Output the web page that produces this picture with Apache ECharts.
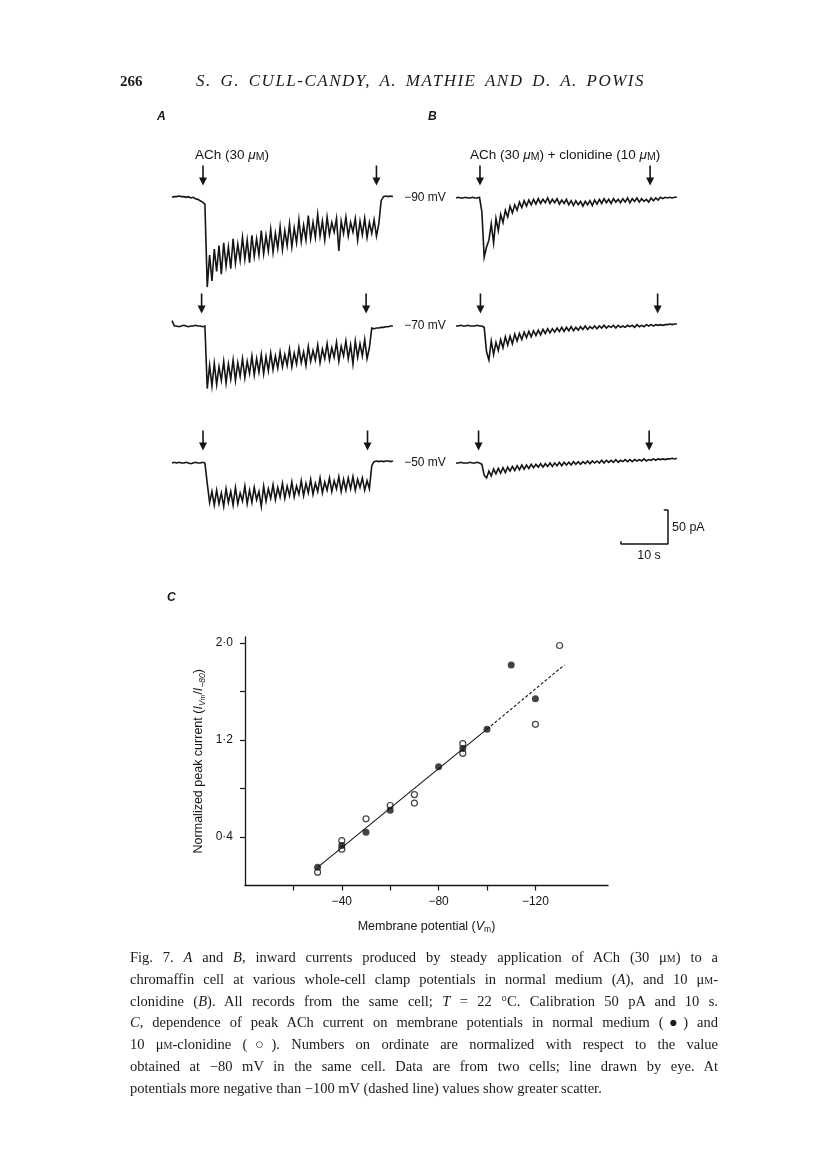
<!DOCTYPE html>
<html>
<head>
<meta charset="utf-8">
<title>Fig. 7 – ACh currents and clonidine</title>
<script src="https://cdn.jsdelivr.net/npm/echarts@6/dist/echarts.min.js"></script>
<style>
  html, body { margin: 0; padding: 0; background: #fff; }
  #page { position: relative; width: 816px; height: 1163px; overflow: hidden; background: #fff; }
  #chart { position: absolute; left: 0; top: 0; width: 816px; height: 1163px; }
  .serif { position: absolute; font-family: "Liberation Serif", "DejaVu Serif", serif; color: #1a1a1a; }
  #folio { left: 120px; top: 73px; font-size: 15px; font-weight: bold; }
  #runhead { left: 196px; top: 71px; width: 449px; font-size: 17px; font-style: italic;
             text-align: justify; text-align-last: justify; letter-spacing: 1.5px; }
  #caption { left: 130px; top: 947px; width: 588px; font-size: 14.5px; line-height: 21.8px; }
  #caption .j { text-align: justify; text-align-last: justify; }
  .sc { font-variant: small-caps; }
</style>
</head>
<body>
<div id="page">
  <div id="chart"></div>
  <div id="folio" class="serif">266</div>
  <div id="runhead" class="serif">S. G. CULL-CANDY, A. MATHIE AND D. A. POWIS</div>
  <div id="caption" class="serif">
    <div class="j">Fig. 7. <i>A</i> and <i>B</i>, inward currents produced by steady application of ACh (30 μ<span class="sc">m</span>) to a</div>
    <div class="j">chromaffin cell at various whole-cell clamp potentials in normal medium (<i>A</i>), and 10 μ<span class="sc">m</span>-</div>
    <div class="j">clonidine (<i>B</i>). All records from the same cell; <i>T</i> = 22 °C. Calibration 50 pA and 10 s.</div>
    <div class="j"><i>C</i>, dependence of peak ACh current on membrane potentials in normal medium (●) and</div>
    <div class="j">10 μ<span class="sc">m</span>-clonidine (○). Numbers on ordinate are normalized with respect to the value</div>
    <div class="j">obtained at −80 mV in the same cell. Data are from two cells; line drawn by eye. At</div>
    <div>potentials more negative than −100 mV (dashed line) values show greater scatter.</div>
  </div>
</div>
<script>
// ---- traces (A: normal medium, B: + clonidine), current in pA, one sample every DT s ----
const DT = 0.5;
const T_MAX = 47;

const A_90 = [
  1, 2, 2, 3, 2, 2, 1, 2, 0, 1,
  -1, -2, -4, -6, -9, -131, -84, -122, -75, -108,
  -70, -112, -66, -100, -72, -104, -60, -96, -68, -92,
  -58, -90, -62, -95, -55, -86, -60, -84, -48, -82,
  -55, -78, -46, -80, -52, -74, -42, -76, -48, -70,
  -38, -72, -44, -66, -32, -64, -40, -62, -26, -60,
  -36, -58, -24, -56, -34, -62, -28, -54, -36, -50,
  -30, -78, -34, -52, -28, -56, -36, -50, -30, -62,
  -34, -54, -30, -58, -36, -52, -32, -56, -38, -4,
  2, 3, 2, 3, 2
];
const A_70 = [
  8, 0, 0, -1, 0, 1, 0, -1, 0, 0,
  1, 0, 0, -1, 0, -92, -58, -88, -55, -86,
  -60, -80, -52, -84, -56, -78, -50, -80, -54, -74,
  -48, -76, -52, -70, -44, -72, -48, -68, -42, -70,
  -45, -66, -40, -64, -44, -62, -38, -60, -42, -58,
  -34, -60, -40, -56, -32, -54, -38, -58, -30, -52,
  -36, -50, -28, -54, -34, -48, -26, -50, -32, -46,
  -24, -52, -30, -44, -22, -48, -28, -56, -22, -46,
  -26, -44, -20, -48, -32, -3, -4, -3, -3, -2,
  -2, -1, -1, 0, 0
];
const A_50 = [
  0, 1, 0, 1, 0, 0, 1, 0, -1, 0,
  1, 0, 0, 1, 0, -30, -58, -42, -62, -40,
  -60, -44, -64, -38, -58, -42, -62, -36, -60, -44,
  -56, -34, -60, -40, -58, -36, -54, -42, -64, -34,
  -56, -38, -52, -32, -54, -36, -50, -30, -52, -34,
  -48, -28, -50, -34, -46, -26, -48, -30, -44, -24,
  -46, -30, -42, -22, -44, -28, -40, -22, -42, -26,
  -38, -20, -42, -24, -40, -22, -38, -20, -40, -24,
  -36, -22, -40, -26, -38, -4, 2, 3, 2, 3,
  2, 3, 3, 2, 3
];
const B_90 = [
  0, 1, 0, 0, 1, 0, 0, 1, 0, 0,
  1, -20, -87, -72, -62, -38, -66, -30, -48, -24,
  -36, -18, -28, -12, -22, -10, -18, -6, -14, -4,
  -12, -3, -10, -2, -9, -1, -8, -2, -7, 0,
  -8, -2, -7, -1, -9, -3, -8, -2, -10, -4,
  -11, -4, -10, -5, -12, -5, -10, -4, -11, -3,
  -9, -2, -8, -1, -7, -2, -8, -1, -6, -2,
  -7, -1, -6, 0, -7, -1, -5, 0, -6, -1,
  -5, -2, -6, 0, -4, 0, -3, 1, -1, 1,
  0, 1, 0, 1, 1
];
const B_70 = [
  0, 0, 1, 0, 0, 1, 0, 0, 0, 1,
  0, 0, -2, -38, -50, -22, -42, -24, -36, -20,
  -32, -16, -28, -15, -26, -12, -22, -11, -20, -9,
  -17, -8, -16, -7, -14, -6, -13, -5, -11, -4,
  -10, -4, -9, -3, -8, -2, -8, -2, -7, -1,
  -7, -2, -6, -1, -5, 0, -5, -1, -4, 0,
  -4, 0, -3, 1, -3, 0, -2, 1, -3, 1,
  -2, 0, -2, 1, -1, 1, -2, 2, -1, 1,
  -1, 2, 0, 2, 0, 2, 1, 2, 1, 2,
  2, 3, 2, 3, 3
];
const B_50 = [
  0, 0, 1, 0, 0, 0, 1, 0, 0, 1,
  0, -2, -18, -22, -12, -19, -9, -16, -8, -15,
  -7, -14, -6, -12, -5, -11, -4, -10, -3, -9,
  -3, -8, -2, -7, -2, -6, -1, -6, -1, -5,
  0, -5, 0, -4, 1, -4, 1, -3, 1, -3,
  2, -2, 2, -2, 2, -1, 3, -1, 3, 0,
  3, 0, 4, 0, 4, 1, 4, 1, 5, 1,
  4, 2, 5, 2, 5, 2, 5, 3, 5, 3,
  6, 3, 5, 4, 6, 4, 6, 5, 6, 5,
  6, 6, 7, 6, 7
];

// drug on / off arrows (s)
const ARROWS_A_90 = [6.6, 43.5];
const ARROWS_A_70 = [6.3, 41.3];
const ARROWS_A_50 = [6.6, 41.6];
const ARROWS_B_90 = [5.1, 41.3];
const ARROWS_B_70 = [5.2, 42.9];
const ARROWS_B_50 = [4.8, 41.1];

const HOLD_LABELS = ['\u221290 mV', '\u221270 mV', '\u221250 mV'];

// calibration bar
const CAL_T = 10;   // s
const CAL_PA = 50;  // pA

// ---- C: peak current vs membrane potential ----
const NORMAL_PTS = [
  [-30, 0.15], [-40, 0.33], [-50, 0.44], [-60, 0.62], [-80, 0.98],
  [-90, 1.13], [-100, 1.29], [-110, 1.82], [-120, 1.54]
];
const CLONIDINE_PTS = [
  [-30, 0.11], [-40, 0.37], [-40, 0.30], [-50, 0.55], [-60, 0.66],
  [-70, 0.75], [-70, 0.68], [-90, 1.17], [-90, 1.09], [-120, 1.33], [-130, 1.98]
];
const FIT_SOLID = [[-30, 0.15], [-100, 1.29]];
const FIT_DASHED = [[-100, 1.29], [-132, 1.82]];
const X_TICKS = [-20, -40, -60, -80, -100, -120];
const X_LABELS = [-40, -80, -120];
const Y_TICKS = [0.4, 0.8, 1.2, 1.6, 2.0];
const Y_LABELS = [0.4, 1.2, 2.0];

// ---- layout ----
const SANS = '"Liberation Sans", Arial, Helvetica, sans-serif';
const INK = '#151515';
const PX_PER_S = 4.7;
const PX_PER_PA = 0.68;
const Y_MIN = -140, Y_MAX = 40;
const ARROW_Y = 33;
const ARROW_PATH = 'path://M3.2,0 L4.8,0 L4.8,12 L8,12 L4,20 L0,12 L3.2,12 Z';
const COL_LEFT = [172, 456];
const ROW_BASE = [198, 326, 463];

const traces = [
  { values: A_90, arrows: ARROWS_A_90, col: 0, row: 0 },
  { values: A_70, arrows: ARROWS_A_70, col: 0, row: 1 },
  { values: A_50, arrows: ARROWS_A_50, col: 0, row: 2 },
  { values: B_90, arrows: ARROWS_B_90, col: 1, row: 0 },
  { values: B_70, arrows: ARROWS_B_70, col: 1, row: 1 },
  { values: B_50, arrows: ARROWS_B_50, col: 1, row: 2 }
];

const grids = [], xAxes = [], yAxes = [], series = [];

traces.forEach((tr, i) => {
    grids.push({
        left: COL_LEFT[tr.col],
        top: ROW_BASE[tr.row] - Y_MAX * PX_PER_PA,
        width: T_MAX * PX_PER_S,
        height: (Y_MAX - Y_MIN) * PX_PER_PA
    });
    xAxes.push({ type: 'value', gridIndex: i, min: 0, max: T_MAX, show: false });
    yAxes.push({ type: 'value', gridIndex: i, min: Y_MIN, max: Y_MAX, show: false });
    series.push({
        type: 'line',
        xAxisIndex: i,
        yAxisIndex: i,
        data: tr.values.map((v, k) => [k * DT, v]),
        showSymbol: false,
        silent: true,
        lineStyle: { color: INK, width: 1.6, join: 'miter' },
        markPoint: {
            symbol: ARROW_PATH,
            symbolSize: [8, 20],
            symbolKeepAspect: false,
            itemStyle: { color: INK },
            label: { show: false },
            data: tr.arrows.map(t => ({ coord: [t, ARROW_Y] }))
        }
    });
});

// calibration bar, drawn in the last B grid
const calX = 35.1, calY = -119;
series.push({
    type: 'line',
    xAxisIndex: 5,
    yAxisIndex: 5,
    showSymbol: false,
    silent: true,
    lineStyle: { color: INK, width: 1.5 },
    data: [
        [calX, calY + 4],
        [calX, calY],
        [calX + CAL_T, calY],
        [calX + CAL_T, calY + CAL_PA],
        [calX + CAL_T - 0.9, calY + CAL_PA]
    ]
});

// panel C
const C = grids.length;
grids.push({ left: 245, top: 637, width: 363, height: 248.5 });

const fmtMinus = v => '\u2212' + Math.abs(v);
const fmtDot = v => v.toFixed(1).replace('.', '\u00b7');

xAxes.push({
    type: 'value',
    gridIndex: C,
    min: -150,
    max: 0,
    inverse: true,
    axisLine: { show: true, onZero: false, lineStyle: { color: INK, width: 1.3 } },
    axisTick: { show: true, customValues: X_TICKS, length: 5, lineStyle: { color: INK, width: 1.2 } },
    axisLabel: { customValues: X_LABELS, formatter: fmtMinus, margin: 10, color: INK, fontSize: 12, fontFamily: SANS },
    splitLine: { show: false },
    name: '{n|Membrane potential (}{i|V}{s|m}{n|)}',
    nameLocation: 'middle',
    nameGap: 33,
    nameTextStyle: {
        rich: {
            n: { fontSize: 12.5, fontFamily: SANS, color: INK, lineHeight: 16 },
            i: { fontSize: 12.5, fontFamily: SANS, fontStyle: 'italic', color: INK, lineHeight: 16 },
            s: { fontSize: 8.5, fontFamily: SANS, color: INK, lineHeight: 9, verticalAlign: 'bottom' }
        }
    }
});
yAxes.push({
    type: 'value',
    gridIndex: C,
    min: 0,
    max: 2.05,
    axisLine: { show: true, onZero: false, lineStyle: { color: INK, width: 1.3 } },
    axisTick: { show: true, customValues: Y_TICKS, length: 5, lineStyle: { color: INK, width: 1.2 } },
    axisLabel: { customValues: Y_LABELS, formatter: fmtDot, margin: 12, color: INK, fontSize: 12, fontFamily: SANS },
    splitLine: { show: false },
    name: '{n|Normalized peak current (}{i|I}{s|V}{ss|m}{n|/}{i|I}{s|\u221280}{n|)}',
    nameLocation: 'middle',
    nameRotate: 90,
    nameGap: 38,
    nameTextStyle: {
        rich: {
            n: { fontSize: 12.5, fontFamily: SANS, color: INK, lineHeight: 16 },
            i: { fontSize: 12.5, fontFamily: SANS, fontStyle: 'italic', color: INK, lineHeight: 16 },
            s: { fontSize: 8.5, fontFamily: SANS, fontStyle: 'italic', color: INK, lineHeight: 10, verticalAlign: 'bottom' },
            ss: { fontSize: 7, fontFamily: SANS, color: INK, lineHeight: 7, verticalAlign: 'bottom' }
        }
    }
});

series.push(
    {
        type: 'line', xAxisIndex: C, yAxisIndex: C, data: FIT_SOLID,
        showSymbol: false, silent: true, lineStyle: { color: INK, width: 1.1 }
    },
    {
        type: 'line', xAxisIndex: C, yAxisIndex: C, data: FIT_DASHED,
        showSymbol: false, silent: true, lineStyle: { color: INK, width: 1.1, type: [3, 2] }
    },
    {
        name: '10 \u03bcM-clonidine', type: 'scatter', xAxisIndex: C, yAxisIndex: C,
        data: CLONIDINE_PTS, symbol: 'circle', symbolSize: 6,
        itemStyle: { color: '#fff', borderColor: INK, borderWidth: 1.2 }
    },
    {
        name: 'normal medium', type: 'scatter', xAxisIndex: C, yAxisIndex: C,
        data: NORMAL_PTS, symbol: 'circle', symbolSize: 7,
        itemStyle: { color: INK }
    }
);

// text annotations of the figure
function txt(x, y, text, extra) {
    return {
        type: 'text', x: x, y: y, silent: true,
        style: Object.assign({ text: text, fill: INK, font: '12px ' + SANS, align: 'left', verticalAlign: 'middle' }, extra || {})
    };
}
const achRich = {
    n: { fontSize: 13.5, fontFamily: SANS, color: INK, lineHeight: 16 },
    mu: { fontSize: 13.5, fontFamily: SANS, fontStyle: 'italic', color: INK, lineHeight: 16 },
    sc: { fontSize: 10.5, fontFamily: SANS, color: INK, lineHeight: 13, verticalAlign: 'bottom' }
};

const graphics = [
    txt(157, 117, 'A', { font: 'italic bold 12px ' + SANS }),
    txt(428, 117, 'B', { font: 'italic bold 12px ' + SANS }),
    txt(167, 598, 'C', { font: 'italic bold 12px ' + SANS }),
    txt(195, 155, '{n|ACh (30 }{mu|\u03bc}{sc|M}{n|)}', { rich: achRich }),
    txt(470, 155, '{n|ACh (30 }{mu|\u03bc}{sc|M}{n|) + clonidine (10 }{mu|\u03bc}{sc|M}{n|)}', { rich: achRich }),
    txt(672, 528, '50 pA', { font: '12.5px ' + SANS }),
    txt(649, 556, '10 s', { align: 'center', font: '12.5px ' + SANS })
];
HOLD_LABELS.forEach((lab, r) => {
    graphics.push(txt(425, ROW_BASE[r], lab, { align: 'center' }));
});

const chart = echarts.init(document.getElementById('chart'), null, { renderer: 'canvas' });
chart.setOption({
    backgroundColor: '#fff',
    animation: false,
    grid: grids,
    xAxis: xAxes,
    yAxis: yAxes,
    series: series,
    graphic: { elements: graphics }
});
</script>
</body>
</html>
